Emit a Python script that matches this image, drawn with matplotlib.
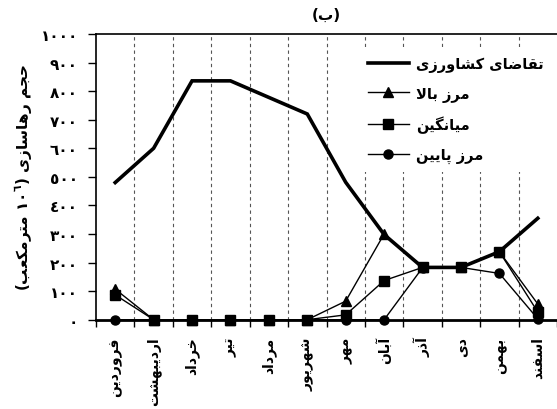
import matplotlib
matplotlib.use("Agg")
import matplotlib.pyplot as plt
import numpy as np

# ---------------- data ----------------
months = ["فروردین", "اردیبهشت", "خرداد", "تیر", "مرداد", "شهریور",
          "مهر", "آبان", "آذر", "دی", "بهمن", "اسفند"]
demand = [480, 600, 836, 836, 778, 720, 481, 298, 183, 183, 238, 355]
upper = [107, 0, 0, 0, 0, 0, 65, 300, 183, 183, 238, 55]
mean = [87, 0, 0, 0, 0, 0, 17, 137, 183, 183, 238, 27]
lower = [0, 0, 0, 0, 0, 0, 0, 0, 182, 183, 162, 3]
series_names = ["تقاضای کشاورزی", "مرز بالا", "میانگین", "مرز پایین"]
title_letter = "ب"
ylabel_words = ["حجم", "رهاسازی", "مترمکعب"]
yticks = list(range(0, 1001, 100))

# ---------------- minimal Arabic/Persian shaping ----------------
FORMS = {  # isolated, final, initial, medial
    'ا': ('\uFE8D', '\uFE8E', None, None),
    'آ': ('\uFE81', '\uFE82', None, None),
    'ب': ('\uFE8F', '\uFE90', '\uFE91', '\uFE92'),
    'پ': ('\uFB56', '\uFB57', '\uFB58', '\uFB59'),
    'ت': ('\uFE95', '\uFE96', '\uFE97', '\uFE98'),
    'ج': ('\uFE9D', '\uFE9E', '\uFE9F', '\uFEA0'),
    'ح': ('\uFEA1', '\uFEA2', '\uFEA3', '\uFEA4'),
    'خ': ('\uFEA5', '\uFEA6', '\uFEA7', '\uFEA8'),
    'د': ('\uFEA9', '\uFEAA', None, None),
    'ذ': ('\uFEAB', '\uFEAC', None, None),
    'ر': ('\uFEAD', '\uFEAE', None, None),
    'ز': ('\uFEAF', '\uFEB0', None, None),
    'س': ('\uFEB1', '\uFEB2', '\uFEB3', '\uFEB4'),
    'ش': ('\uFEB5', '\uFEB6', '\uFEB7', '\uFEB8'),
    'ض': ('\uFEBD', '\uFEBE', '\uFEBF', '\uFEC0'),
    'ع': ('\uFEC9', '\uFECA', '\uFECB', '\uFECC'),
    'ف': ('\uFED1', '\uFED2', '\uFED3', '\uFED4'),
    'ق': ('\uFED5', '\uFED6', '\uFED7', '\uFED8'),
    'ک': ('\uFB8E', '\uFB8F', '\uFB90', '\uFB91'),
    'گ': ('\uFB92', '\uFB93', '\uFB94', '\uFB95'),
    'ل': ('\uFEDD', '\uFEDE', '\uFEDF', '\uFEE0'),
    'م': ('\uFEE1', '\uFEE2', '\uFEE3', '\uFEE4'),
    'ن': ('\uFEE5', '\uFEE6', '\uFEE7', '\uFEE8'),
    'ه': ('\uFEE9', '\uFEEA', '\uFEEB', '\uFEEC'),
    'و': ('\uFEED', '\uFEEE', None, None),
    'ی': ('\uFBFC', '\uFBFD', '\uFBFE', '\uFBFF'),
}


def joins_next(c):
    return c in FORMS and FORMS[c][2] is not None


def shape(s):
    out = []
    i = 0
    n = len(s)
    while i < n:
        c = s[i]
        if c not in FORMS:
            out.append(c)
            i += 1
            continue
        prev = s[i - 1] if i > 0 else ''
        jp = joins_next(prev)
        if c == 'ل' and i + 1 < n and s[i + 1] == 'ا':
            out.append('\uFEFC' if jp else '\uFEFB')
            i += 2
            continue
        nxt = s[i + 1] if i + 1 < n else ''
        jn = joins_next(c) and nxt in FORMS
        iso, fin, ini, med = FORMS[c]
        if jp and jn:
            out.append(med)
        elif jp:
            out.append(fin)
        elif jn:
            out.append(ini)
        else:
            out.append(iso)
        i += 1
    return ''.join(out)


def rtl(s):
    return shape(s)[::-1]


def ar_digits(v):
    return ''.join(chr(0x0660 + int(d)) for d in str(v))


# ---------------- figure ----------------
plt.rcParams['font.family'] = ['DejaVu Sans']
plt.rcParams['font.weight'] = 'bold'
plt.rcParams['mathtext.fontset'] = 'custom'
plt.rcParams['mathtext.rm'] = 'DejaVu Sans:bold'
plt.rcParams['mathtext.bf'] = 'DejaVu Sans:bold'
plt.rcParams['mathtext.default'] = 'bf'

fig = plt.figure(figsize=(5.57, 4.10), dpi=100)
ax = fig.add_axes([96 / 557, 1 - 320.7 / 410, 1 - 96 / 557, (320.7 - 35) / 410])

x = np.arange(len(months))

ax.plot(x, demand, color='black', lw=2.6, solid_joinstyle='miter', zorder=3,
        clip_on=False, label=rtl(series_names[0]))
ax.plot(x, upper, color='black', lw=1.0, marker='^', ms=7.5, zorder=4,
        clip_on=False, label=rtl(series_names[1]))
ax.plot(x, mean, color='black', lw=1.0, marker='s', ms=6.5, zorder=4,
        clip_on=False, label=rtl(series_names[2]))
ax.plot(x, lower, color='black', lw=1.0, marker='o', ms=6.5, zorder=4,
        clip_on=False, label=rtl(series_names[3]))

ax.set_xlim(-0.5, len(months) - 0.5)
ax.set_ylim(0, 1000)

ax.set_yticks(yticks)
ax.set_yticklabels([ar_digits(v) for v in yticks], fontsize=11, fontweight='bold')
ax.tick_params(axis='y', direction='out', length=6, width=1.0, pad=7)

ax.set_xticks(x)
ax.set_xticklabels([rtl(m) for m in months], rotation=90, va='top', ha='center',
                   fontsize=10, fontweight='bold')
ax.tick_params(axis='x', which='major', length=0, pad=12)
ax.set_xticks(np.arange(-0.5, len(months) + 0.5, 1.0), minor=True)
ax.tick_params(axis='x', which='minor', direction='out', length=5, width=1.0)

for b in np.arange(0.5, len(months) - 0.5, 1.0):
    ax.axvline(b, color='#555555', lw=0.8, ls=(0, (3, 3)), zorder=1)

ax.spines['right'].set_visible(False)
ax.spines['bottom'].set_linewidth(2.0)
ax.spines['left'].set_linewidth(1.2)
ax.spines['top'].set_linewidth(1.2)

ax.set_title('(' + rtl(title_letter) + ')', fontsize=11, fontweight='bold', pad=11)

ylab = '(' + rtl(ylabel_words[2]) + ' ' + ar_digits(10) + r'$^{\mathbf{' + ar_digits(6) + r'}}$' + ') ' \
       + rtl(ylabel_words[1]) + ' ' + rtl(ylabel_words[0])
ax.set_ylabel(ylab, fontsize=11, fontweight='bold', labelpad=3)

leg = ax.legend(loc='upper right', bbox_to_anchor=(1.0, 0.97),
                frameon=True, fancybox=False, edgecolor='none', facecolor='white',
                framealpha=1.0, handlelength=2.8, labelspacing=0.95,
                borderpad=0.6, handletextpad=0.5, borderaxespad=0.3,
                prop={'weight': 'bold', 'size': 10.5})
leg.set_zorder(5)

fig.savefig('out.png', dpi=100)
